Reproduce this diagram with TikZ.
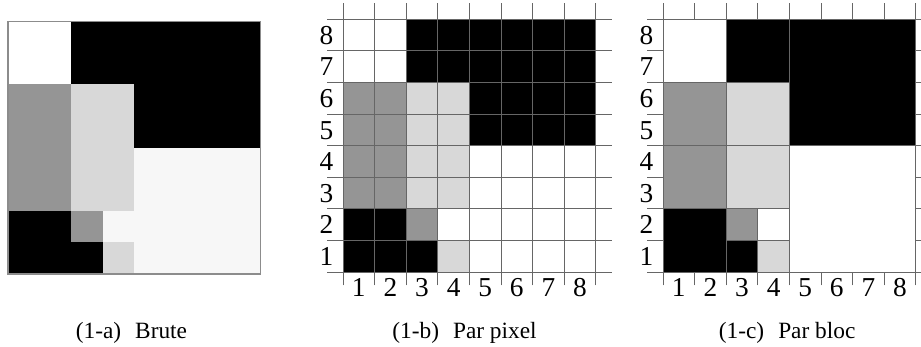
\documentclass[tikz,border=0pt]{standalone}
\usepackage{fontspec}
\setmainfont{Liberation Serif}
\definecolor{gmid}{HTML}{959595}
\definecolor{glight}{HTML}{D8D8D8}
\definecolor{gpale}{HTML}{F7F7F7}
\tikzset{
    gridline/.style={draw=black!60, line width=0.7pt},
    frameline/.style={draw=black!45, line width=0.9pt},
    numlabel/.style={font=\fontsize{20.5}{20.5}\selectfont, inner sep=0pt, text height=14pt, text depth=0pt},
    caption/.style={font=\fontsize{17.5}{17.5}\selectfont, inner sep=0pt, anchor=base},
}
% the 8x8 image, cell by cell groups (white is the paper)
\newcommand{\imagefills}{%
    \fill[black] (2,6) rectangle (8,8);
    \fill[black] (4,4) rectangle (8,6);
    \fill[gmid] (0,2) rectangle (2,6);
    \fill[glight] (2,2) rectangle (4,6);
    \fill[black] (0,0) rectangle (2,2);
    \fill[black] (2,0) rectangle (3,1);
    \fill[gmid] (2,1) rectangle (3,2);
    \fill[glight] (3,0) rectangle (4,1);
}
\begin{document}
\begin{tikzpicture}[x=23.7pt, y=23.7pt]
    \clip (0,0) rectangle (29.146,10.981);

    \coordinate (pa) at (0.253,2.31);
    \coordinate (pb) at (10.854,2.373);
    \coordinate (pc) at (20.981,2.373);

    % (1-a) raw image
    \begin{scope}[shift={(pa)}]
        \fill[gpale] (4,0) rectangle (8,4);
        \fill[gpale] (3,1) rectangle (4,2);
        \imagefills
        \draw[frameline] (0,0) rectangle (8,8);
    \end{scope}

    % (1-b) per pixel
    \begin{scope}[shift={(pb)}]
        \imagefills
        \foreach \i in {0,...,8} {
            \draw[gridline] (-0.5,\i) -- (8.5,\i);
            \draw[gridline] (\i,-0.42) -- (\i,8.5);
        }
        \foreach \i in {1,...,8} {
            \node[numlabel] (brow\i) at (-0.52,\i-0.5) {\i};
            \node[numlabel] (bcol\i) at (\i-0.5,-0.48) {\i};
        }
    \end{scope}

    % (1-c) per block
    \begin{scope}[shift={(pc)}]
        \imagefills
        \foreach \a/\b/\c/\d in {0/6/2/8, 2/6/4/8, 4/4/8/8, 0/4/2/6, 2/4/4/6, 0/2/2/4, 2/2/4/4,
                4/0/8/4, 0/0/2/2, 2/1/3/2, 3/1/4/2, 2/0/3/1, 3/0/4/1}
            \draw[gridline] (\a,\b) rectangle (\c,\d);
        \foreach \i in {0,...,8} {
            \draw[gridline] (-0.5,\i) -- (0,\i);
            \draw[gridline] (8,\i) -- (8.5,\i);
            \draw[gridline] (\i,-0.42) -- (\i,0);
            \draw[gridline] (\i,8) -- (\i,8.5);
        }
        \foreach \i in {1,...,8} {
            \node[numlabel] (crow\i) at (-0.52,\i-0.5) {\i};
            \node[numlabel] (ccol\i) at (\i-0.5,-0.48) {\i};
        }
    \end{scope}

    \node[caption] (capa) at (4.16,0.27) {(1-a)\hspace{0.6em}Brute};
    \node[caption] (capb) at (14.70,0.27) {(1-b)\hspace{0.6em}Par pixel};
    \node[caption] (capc) at (24.91,0.27) {(1-c)\hspace{0.6em}Par bloc};
\end{tikzpicture}
\end{document}
